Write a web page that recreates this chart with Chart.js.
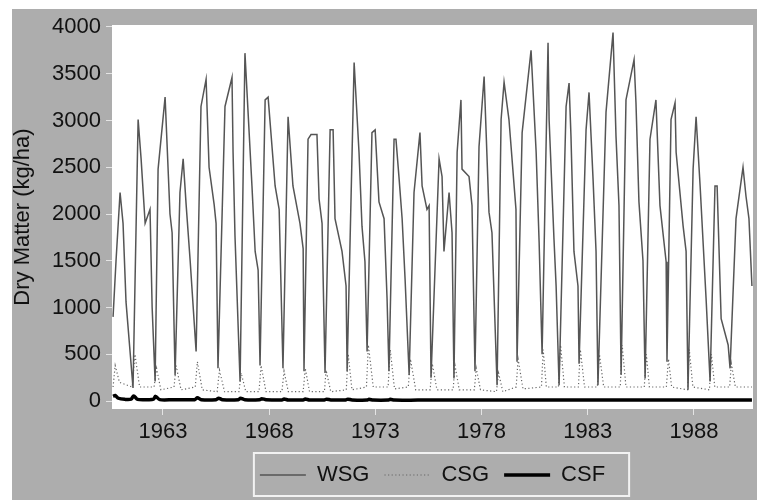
<!DOCTYPE html>
<html>
<head>
<meta charset="utf-8">
<script src="https://cdn.jsdelivr.net/npm/chart.js@4.4.0/dist/chart.umd.min.js"></script>
<style>
  html, body { margin: 0; padding: 0; background: #fff; }
  #wrap { width: 757px; height: 500px; }
</style>
</head>
<body>
<div id="wrap"><canvas id="chart" width="757" height="500"></canvas></div>
<script>
// --- Data ---
const xTicks = [1963, 1968, 1973, 1978, 1983, 1988];
const yTicks = [0, 500, 1000, 1500, 2000, 2500, 3000, 3500, 4000];

// WSG: warm-season grass, one growth peak per year
const wsgYears = [
    1960.65, 1960.79, 1960.98, 1961.12, 1961.26, 1961.59, 1961.83, 1961.97, 1962.16, 1962.39,
    1962.49, 1962.63, 1962.77, 1963.10, 1963.33, 1963.43, 1963.57, 1963.80, 1963.95, 1964.09,
    1964.28, 1964.56, 1964.79, 1965.03, 1965.17, 1965.41, 1965.50, 1965.59, 1965.92, 1966.25,
    1966.30, 1966.39, 1966.63, 1966.86, 1967.19, 1967.34, 1967.48, 1967.57, 1967.81, 1967.95,
    1968.28, 1968.47, 1968.65, 1968.89, 1969.12, 1969.45, 1969.60, 1969.64, 1969.83, 1969.97,
    1970.25, 1970.35, 1970.49, 1970.63, 1970.87, 1971.01, 1971.10, 1971.43, 1971.62, 1971.67,
    1972.00, 1972.23, 1972.37, 1972.51, 1972.61, 1972.84, 1972.99, 1973.17, 1973.41, 1973.55,
    1973.64, 1973.88, 1973.97, 1974.12, 1974.26, 1974.40, 1974.59, 1974.82, 1975.10, 1975.20,
    1975.43, 1975.53, 1975.62, 1976.00, 1976.14, 1976.23, 1976.47, 1976.61, 1976.70, 1976.85,
    1977.03, 1977.08, 1977.41, 1977.55, 1977.69, 1977.88, 1978.12, 1978.35, 1978.49, 1978.73,
    1978.92, 1979.06, 1979.29, 1979.62, 1979.67, 1979.91, 1980.33, 1980.57, 1980.71, 1980.85,
    1981.13, 1981.18, 1981.41, 1981.51, 1981.65, 1981.98, 1982.12, 1982.21, 1982.35, 1982.54,
    1982.59, 1982.92, 1983.06, 1983.25, 1983.39, 1983.48, 1983.86, 1984.19, 1984.33, 1984.47,
    1984.57, 1984.80, 1985.18, 1985.27, 1985.41, 1985.60, 1985.70, 1985.93, 1986.21, 1986.40,
    1986.69, 1986.73, 1986.92, 1987.11, 1987.16, 1987.49, 1987.63, 1987.72, 1987.96, 1988.10,
    1988.29, 1988.57, 1988.76, 1988.99, 1989.09, 1989.28, 1989.61, 1989.70, 1989.98, 1990.31,
    1990.45, 1990.59, 1990.73,
];
const wsgValues = [
    900, 1500, 2230, 1900, 1060, 140, 3010, 2590, 1900, 2050,
    1000, 210, 2480, 3250, 2000, 1800, 280, 2230, 2590, 2100,
    1500, 530, 3150, 3440, 2500, 2100, 1900, 350, 3150, 3460,
    2660, 1770, 210, 3720, 2300, 1600, 1400, 380, 3220, 3250,
    2300, 2050, 350, 3040, 2300, 1900, 1630, 320, 2800, 2850,
    2850, 2160, 1900, 300, 2900, 2900, 1950, 1600, 1230, 320,
    3620, 2660, 1870, 1490, 530, 2870, 2900, 2130, 1950, 1100,
    320, 2800, 2800, 2370, 1950, 1300, 280, 2230, 2870, 2300,
    2050, 2090, 250, 2590, 2400, 1600, 2230, 1800, 240, 2660,
    3220, 2480, 2400, 2090, 320, 2720, 3470, 2020, 1800, 170,
    3010, 3410, 3010, 2050, 420, 2870, 3750, 2660, 1700, 500,
    3830, 3010, 1730, 1230, 170, 3150, 3400, 2830, 1600, 1230,
    400, 2900, 3300, 2370, 1600, 170, 3090, 3940, 2830, 2090,
    280, 3220, 3650, 3190, 2130, 1500, 240, 2800, 3220, 2090,
    1490, 420, 3010, 3190, 2660, 1870, 1600, 120, 2480, 3040,
    2300, 1100, 210, 2300, 2300, 880, 600, 350, 1950, 2500,
    2190, 1950, 1230,
];

// CSG: cool-season grass, low flush each year
const csgYears = [
    1960.65, 1960.75, 1960.95, 1961.55, 1961.68, 1961.90, 1962.58, 1962.70, 1962.90,
    1963.52, 1963.62, 1963.85, 1964.52, 1964.62, 1964.85, 1965.55, 1965.66, 1965.90,
    1966.58, 1966.68, 1966.90, 1967.52, 1967.62, 1967.85, 1968.60, 1968.70, 1968.90,
    1969.60, 1969.70, 1969.90, 1970.60, 1970.68, 1970.90, 1971.63, 1971.72, 1971.90,
    1972.58, 1972.67, 1972.90, 1973.60, 1973.70, 1973.90, 1974.55, 1974.65, 1974.90,
    1975.58, 1975.68, 1975.90, 1976.66, 1976.75, 1976.95, 1977.66, 1977.75, 1977.95,
    1978.70, 1978.80, 1979.00, 1979.63, 1979.72, 1979.95, 1980.82, 1980.90, 1981.05,
    1981.62, 1981.72, 1981.90, 1982.56, 1982.65, 1982.85, 1983.45, 1983.55, 1983.75,
    1984.53, 1984.62, 1984.80, 1985.66, 1985.76, 1985.90, 1986.70, 1986.80, 1986.95,
    1987.70, 1987.78, 1987.95, 1988.73, 1988.82, 1988.98, 1989.68, 1989.76, 1989.95,
    1990.73,
];
const csgValues = [
    150, 380, 200, 150, 500, 150, 150, 350, 120,
    150, 380, 120, 150, 420, 120, 100, 330, 100,
    100, 300, 100, 100, 380, 100, 100, 320, 100,
    100, 350, 100, 100, 330, 100, 120, 500, 120,
    150, 600, 150, 150, 550, 130, 150, 450, 120,
    120, 400, 120, 120, 380, 120, 120, 350, 120,
    100, 300, 100, 150, 450, 130, 150, 550, 150,
    150, 600, 150, 150, 550, 150, 150, 500, 150,
    150, 600, 150, 150, 500, 150, 150, 450, 150,
    120, 550, 150, 120, 500, 150, 150, 400, 150,
    150,
];

// CSF: cool-season forb, stays near zero
const csfYears = [
    1960.65, 1960.75, 1960.90, 1961.20, 1961.50, 1961.62, 1961.80, 1962.30, 1962.55, 1962.65,
    1962.85, 1963.50, 1964.50, 1964.62, 1964.80, 1965.50, 1965.62, 1965.80, 1966.55, 1966.65,
    1966.85, 1967.55, 1967.65, 1967.85, 1968.60, 1968.70, 1968.90, 1969.60, 1969.70, 1969.90,
    1970.60, 1970.70, 1970.90, 1971.60, 1971.70, 1971.90, 1972.60, 1972.70, 1972.90, 1973.60,
    1973.70, 1973.90, 1975.00, 1980.00, 1985.00, 1990.73,
];
const csfValues = [
    50, 60, 30, 18, 20, 55, 18, 15, 20, 50,
    15, 15, 15, 35, 15, 15, 30, 15, 15, 30,
    15, 15, 25, 15, 12, 22, 12, 12, 22, 12,
    12, 20, 12, 12, 20, 12, 10, 18, 10, 10,
    18, 10, 10, 10, 10, 10,
];

const toPoints = (xs, ys) => xs.map((x, i) => ({ x, y: ys[i] }));

// --- Look ---
const colors = {
    page: '#ffffff',
    panel: '#adadad',
    plot: '#ffffff',
    text: '#111111',
    wsg: '#555555',
    csg: '#666666',
    csf: '#000000',
    tick: '#e4e4e4',
    legendBorder: '#f2f2f2',
};

Chart.defaults.font.family = "'Liberation Sans', Arial, sans-serif";
Chart.defaults.font.size = 22;
Chart.defaults.color = colors.text;

// grey scanned panel, white plot area, and the boxed legend
const backdrop = {
    id: 'backdrop',
    beforeDraw(chart) {
        const { ctx, width, height, chartArea: a } = chart;
        ctx.save();
        ctx.fillStyle = colors.page;
        ctx.fillRect(0, 0, width, height);
        ctx.fillStyle = colors.panel;
        ctx.fillRect(12, 9, width - 12, height - 9);
        ctx.fillStyle = colors.plot;
        ctx.fillRect(a.left, a.top, a.right - a.left, a.bottom - a.top);
        ctx.restore();
    },
    afterDraw(chart) {
        const boxes = chart.legend && chart.legend.legendHitBoxes;
        if (!boxes || !boxes.length) return;
        const left = Math.min(...boxes.map(b => b.left)) - 6;
        const right = Math.max(...boxes.map(b => b.left + b.width)) + 24;
        const top = Math.min(...boxes.map(b => b.top)) - 11;
        const bottom = Math.max(...boxes.map(b => b.top + b.height)) + 10;
        const { ctx } = chart;
        ctx.save();
        ctx.strokeStyle = colors.legendBorder;
        ctx.lineWidth = 2;
        ctx.strokeRect(left, top, right - left, bottom - top);
        ctx.restore();
    },
};

// legend samples take the dataset's own line width and dash
function legendLabels(chart) {
    const base = Chart.defaults.plugins.legend.labels.generateLabels(chart);
    return base.map(item => {
        const ds = chart.data.datasets[item.datasetIndex];
        return { ...item, lineWidth: ds.borderWidth, lineDash: ds.borderDash || [] };
    });
}

new Chart(document.getElementById('chart'), {
    type: 'line',
    data: {
        datasets: [
            {
                label: 'WSG',
                data: toPoints(wsgYears, wsgValues),
                borderColor: colors.wsg,
                borderWidth: 1.5,
                pointRadius: 0,
                tension: 0,
                order: 1,
            },
            {
                label: 'CSG',
                data: toPoints(csgYears, csgValues),
                borderColor: colors.csg,
                borderWidth: 1.2,
                borderDash: [1.2, 2.4],
                pointRadius: 0,
                tension: 0,
                order: 2,
            },
            {
                label: 'CSF',
                data: toPoints(csfYears, csfValues),
                borderColor: colors.csf,
                borderWidth: 3.5,
                pointRadius: 0,
                tension: 0.3,
                order: 0,
            },
        ],
    },
    options: {
        responsive: false,
        animation: false,
        devicePixelRatio: 1,
        events: [],
        layout: { padding: { left: 0, right: 4, top: 25, bottom: 4 } },
        plugins: {
            tooltip: { enabled: false },
            legend: {
                position: 'bottom',
                fullSize: false,
                labels: {
                    usePointStyle: true,
                    pointStyle: 'line',
                    pointStyleWidth: 46,
                    boxHeight: 22,
                    padding: 15,
                    color: colors.text,
                    font: { size: 22 },
                    generateLabels: legendLabels,
                    sort: (a, b) => a.datasetIndex - b.datasetIndex,
                },
            },
        },
        scales: {
            x: {
                type: 'linear',
                min: 1960.6,
                max: 1990.78,
                afterBuildTicks: axis => { axis.ticks = xTicks.map(v => ({ value: v })); },
                afterFit: axis => { axis.height = 40; },
                ticks: {
                    callback: v => String(v),
                    padding: 4,
                    maxRotation: 0,
                    autoSkip: false,
                    font: { size: 22 },
                },
                grid: { drawOnChartArea: false, color: colors.tick, tickLength: 6 },
                border: { display: false },
            },
            y: {
                min: -85,
                max: 4021,
                afterBuildTicks: axis => { axis.ticks = yTicks.map(v => ({ value: v })); },
                afterFit: axis => { axis.width = 112; },
                ticks: { callback: v => String(v), padding: 5, font: { size: 22 } },
                grid: { drawOnChartArea: false, color: colors.tick, tickLength: 6 },
                border: { display: false },
                title: {
                    display: true,
                    text: 'Dry Matter (kg/ha)',
                    font: { size: 22 },
                    padding: { top: 10, bottom: 4 },
                },
            },
        },
    },
    plugins: [backdrop],
});
</script>
</body>
</html>
